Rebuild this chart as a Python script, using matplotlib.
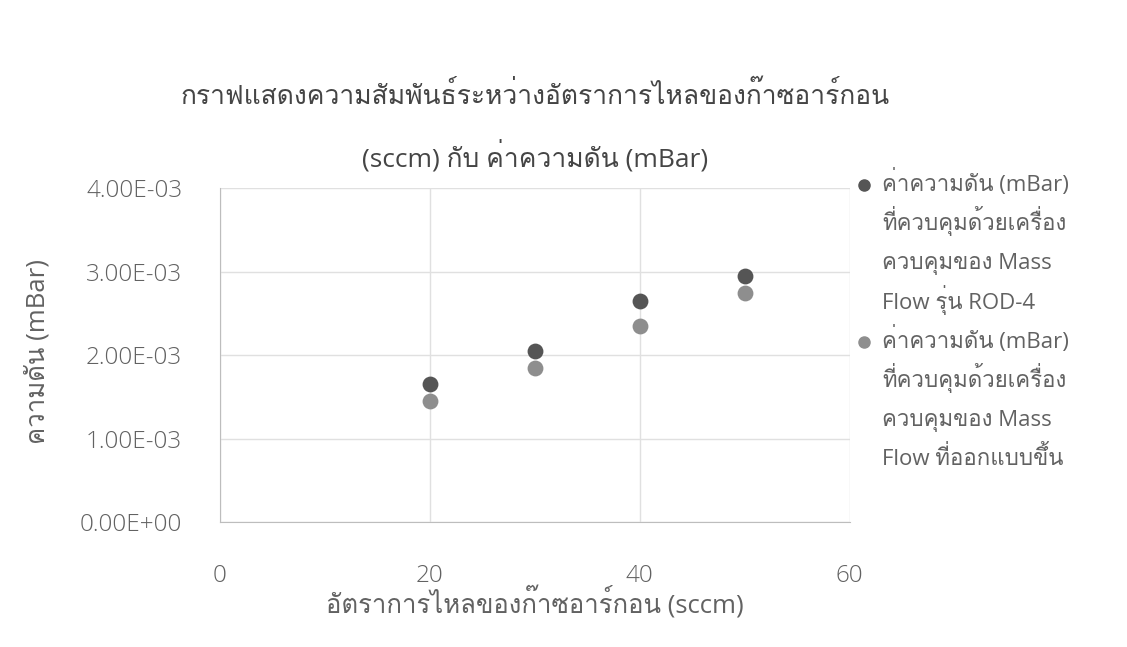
import matplotlib
matplotlib.use("Agg")
import matplotlib.pyplot as plt
from matplotlib.lines import Line2D

# ---- data ----
flow_sccm = [20, 30, 40, 50]
pressure_rod4 = [1.65e-3, 2.05e-3, 2.65e-3, 2.95e-3]
pressure_designed = [1.45e-3, 1.85e-3, 2.35e-3, 2.75e-3]
x_ticks = [0, 20, 40, 60]
y_ticks = [0.0, 1e-3, 2e-3, 3e-3, 4e-3]

title = "กราฟแสดงความสัมพันธ์ระหว่างอัตราการไหลของก๊าซอาร์กอน\n(sccm) กับ ค่าความดัน (mBar)"
x_label = "อัตราการไหลของก๊าซอาร์กอน (sccm)"
y_label = "ความดัน (mBar)"
legend_rod4 = ["ค่าความดัน (mBar)", "ที่ควบคุมด้วยเครื่อง", "ควบคุมของ Mass", "Flow รุ่น ROD-4"]
legend_designed = ["ค่าความดัน (mBar)", "ที่ควบคุมด้วยเครื่อง", "ควบคุมของ Mass", "Flow ที่ออกแบบขึ้น"]

# Open Sans for Latin glyphs, Loma (correct Thai mark placement) for Thai
plt.rcParams['font.family'] = ["Open Sans", "Loma", "DejaVu Sans"]

dark = "#555555"
light = "#8e8e8e"
text_col = "#626262"
title_col = "#454545"

W, H = 1127, 647
fig = plt.figure(figsize=(W / 100, H / 100), dpi=100)
ax = fig.add_axes([0.195, 0.193, 0.754 - 0.195, 0.709 - 0.193])

ax.scatter(flow_sccm, pressure_rod4, s=130, color=dark, zorder=3, linewidths=0)
ax.scatter(flow_sccm, pressure_designed, s=130, color=light, zorder=3, linewidths=0)

ax.set_xlim(0, 60)
ax.set_ylim(0, 4e-3)
ax.set_xticks(x_ticks)
ax.set_yticks(y_ticks)
ax.set_xticklabels([str(v) for v in x_ticks])
ax.set_yticklabels(["%.2E" % v for v in y_ticks])
ax.tick_params(length=0, labelsize=17.5, colors=text_col)
for t in ax.get_xticklabels() + ax.get_yticklabels():
    t.set_fontweight("light")
ax.tick_params(axis='y', pad=27)
ax.tick_params(axis='x', pad=30)
ax.grid(True, color="#e0e0e0", linewidth=1)
ax.set_axisbelow(True)
for s in ["top", "right"]:
    ax.spines[s].set_visible(False)
for s in ["left", "bottom"]:
    ax.spines[s].set_color("#bdbdbd")

fig.text(535 / W, 1 - 603 / H, x_label, ha="center", va="center", fontsize=18.5, color=text_col)
fig.text(38 / W, 1 - 352 / H, y_label, ha="center", va="center", rotation=90, fontsize=18.5,
         color=text_col)
fig.text(535 / W, 1 - 127 / H, title, ha="center", va="center", fontsize=19,
         color=title_col, linespacing=2.1)

# legend: marker beside first line of each entry, evenly spaced wrapped lines (baseline aligned)
line_step = 39.2
y0 = 184          # visual centre of first legend line
baseline_off = 7  # baseline sits below the visual centre
marker_x = 864
text_x = 882
k = 0
for col, lines in [(dark, legend_rod4), (light, legend_designed)]:
    for i, ln in enumerate(lines):
        y = y0 + k * line_step
        if i == 0:
            fig.add_artist(Line2D([marker_x / W], [1 - (y + 1) / H], transform=fig.transFigure,
                                  marker="o", markersize=8, color=col, linestyle="None"))
        fig.text(text_x / W, 1 - (y + baseline_off) / H, ln, ha="left", va="baseline",
                 fontsize=16, color=text_col)
        k += 1

fig.savefig("out.png", dpi=100, facecolor="white")
